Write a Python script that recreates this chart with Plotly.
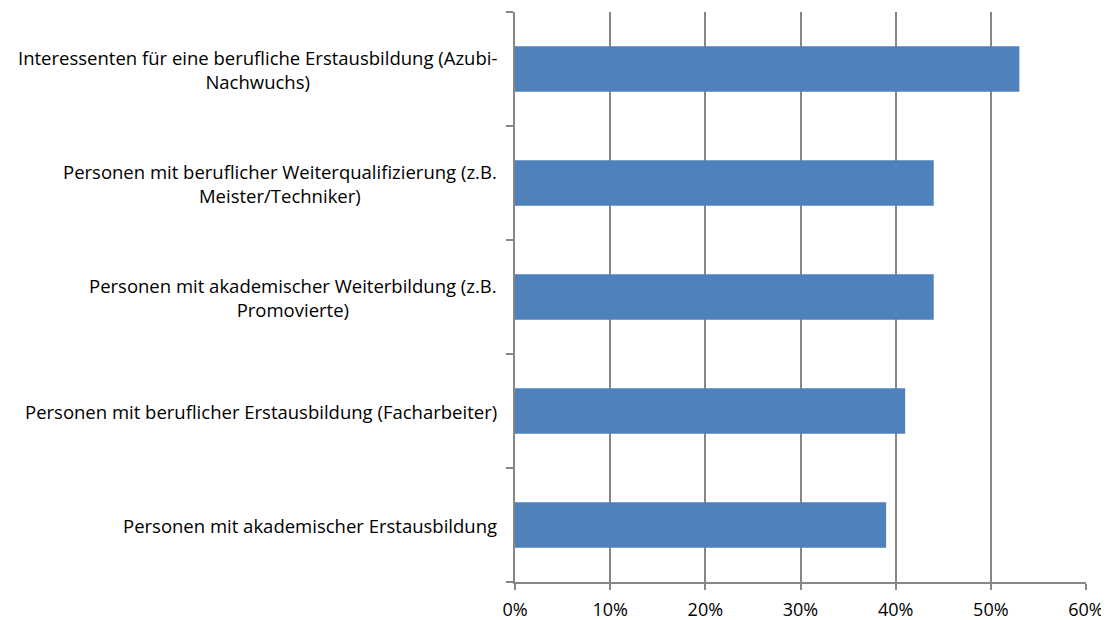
import plotly.graph_objects as go

categories = [
    "Personen mit akademischer Erstausbildung",
    "Personen mit beruflicher Erstausbildung (Facharbeiter)",
    "Personen mit akademischer Weiterbildung (z.B.<br>Promovierte)",
    "Personen mit beruflicher Weiterqualifizierung (z.B.<br>Meister/Techniker)",
    "Interessenten für eine berufliche Erstausbildung (Azubi-<br>Nachwuchs)",
]
values = [0.39, 0.41, 0.44, 0.44, 0.53]
x_ticks = [0, 0.1, 0.2, 0.3, 0.4, 0.5, 0.6]
x_labels = ["0%", "10%", "20%", "30%", "40%", "50%", "60%"]

grey = "#868686"
font = "Open Sans"

fig = go.Figure(go.Bar(
    x=values,
    y=categories,
    orientation="h",
    marker=dict(color="#4F81BD", line_width=0),
))

for cat in categories:
    fig.add_annotation(
        x=0, xref="paper", xanchor="right", xshift=-16,
        y=cat, yref="y",
        text=cat, showarrow=False, align="center",
        font=dict(family=font, size=18.5, color="#000000"),
    )

# page body has an 8px margin, so figure is shrunk by 8px
fig.update_layout(
    width=1101, height=612,
    margin=dict(l=507, r=23, t=4, b=38),
    plot_bgcolor="white", paper_bgcolor="white",
    bargap=0.6,
    showlegend=False,
    font=dict(family=font, size=18, color="#000000"),
)

fig.update_xaxes(
    range=[0, 0.6], tickvals=x_ticks, ticktext=x_labels,
    showgrid=True, gridcolor=grey, gridwidth=2,
    showline=True, linecolor=grey, linewidth=2,
    ticks="outside", ticklen=6, tickcolor=grey, tickwidth=2,
    ticklabelstandoff=4,
    zeroline=False, automargin=False,
)
fig.update_yaxes(
    showticklabels=False,
    showline=True, linecolor=grey, linewidth=2,
    ticks="outside", tickson="boundaries", ticklen=7, tickcolor=grey, tickwidth=2,
    showgrid=False, automargin=False,
)

fig.write_html("out.html")
